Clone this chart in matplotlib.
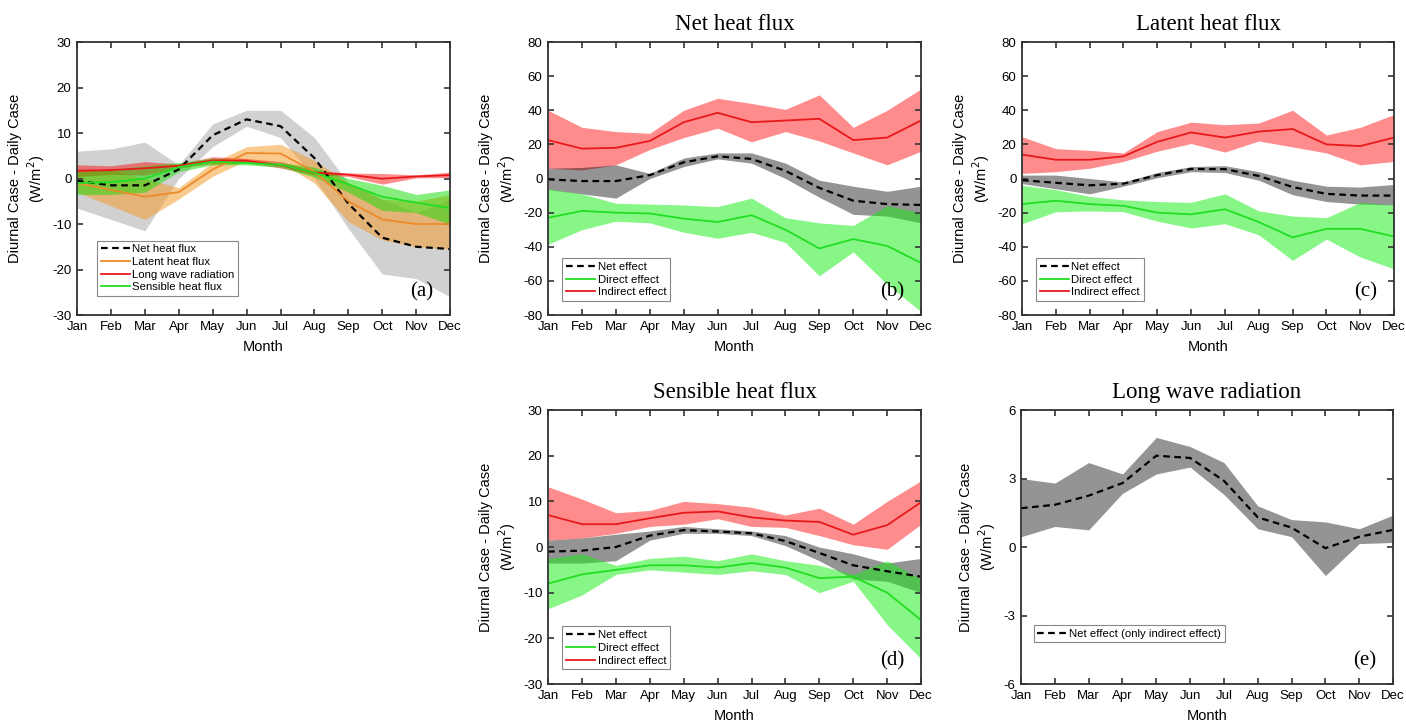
import matplotlib.pyplot as plt

months = ['Jan', 'Feb', 'Mar', 'Apr', 'May', 'Jun', 'Jul', 'Aug', 'Sep', 'Oct', 'Nov', 'Dec']
x = list(range(1, 13))

# net heat flux (panel a + net effect in panel b)
net_mid = [-0.5, -1.5, -1.5, 2, 9.5, 13, 11.5, 4.5, -5.5, -13, -15, -15.5]
net_hi = [6, 6.5, 8, 3, 12, 15, 15, 9, -1, -4.5, -7.5, -4.5]
net_lo = [-6.5, -9, -11.5, 0, 7, 11.5, 9, 0, -11, -21, -22, -26]

# latent heat flux (panel a + net effect in panel c)
lat_mid = [-1, -2.5, -4, -3, 2, 5.6, 5.5, 1.5, -5, -9, -10, -10]
lat_hi = [2, 2, 0, -2, 3.5, 7, 7.5, 4, -1, -4.5, -5, -3.5]
lat_lo = [-3, -6, -9, -4.5, 0.5, 4, 3.5, -1, -9.5, -13.5, -15, -15.5]

# sensible heat flux (panel a + net effect in panel d)
sen_mid = [-1, -0.8, 0, 2.5, 3.7, 3.4, 3.0, 1.3, -1.3, -4, -5.3, -6.5]
sen_hi = [1.5, 2, 2.8, 3.5, 4.5, 4, 3.5, 2.5, 0, -1.5, -3.5, -2.5]
sen_lo = [-3.5, -3.5, -3, 1.5, 3, 3, 2.5, 0.3, -3, -7, -7.5, -10]

# long wave radiation (panel a + panel e)
lw_mid = [1.7, 1.85, 2.25, 2.8, 4.0, 3.9, 2.9, 1.3, 0.85, -0.05, 0.45, 0.75]
lw_hi = [3, 2.8, 3.7, 3.2, 4.8, 4.4, 3.7, 1.8, 1.2, 1.1, 0.8, 1.4]
lw_lo = [0.45, 0.9, 0.75, 2.35, 3.2, 3.5, 2.3, 0.8, 0.45, -1.25, 0.15, 0.2]

# panel b: net heat flux, direct / indirect
b_dir_mid = [-23, -19, -20, -20.5, -23.5, -25.5, -21.5, -30, -41, -35.5, -39.5, -49.5]
b_dir_hi = [-6, -9, -14.5, -15, -15.5, -16.5, -11.5, -23, -26, -27.5, -16, -20]
b_dir_lo = [-38.5, -30, -25, -26, -31.5, -35, -31.5, -37.5, -57, -43, -62, -78]
b_ind_mid = [22.5, 17.5, 18, 22, 33, 38.5, 33, 34, 35, 22.5, 24, 34]
b_ind_hi = [40, 30, 27.5, 26.5, 40, 47, 44, 40.5, 49, 30, 40, 52.5]
b_ind_lo = [6, 5, 8, 17, 24, 29.5, 21.5, 27.5, 22, 15, 8, 16]

# panel c: latent heat flux, direct / indirect
c_dir_mid = [-15, -13, -15, -16, -20, -21, -18, -25.5, -34.5, -29.5, -29.5, -34]
c_dir_hi = [-4, -6.5, -10.5, -12.5, -13.5, -14, -9, -19, -22, -23, -14, -15.5]
c_dir_lo = [-26.5, -19.5, -19, -19.5, -25, -29, -26.5, -33, -48, -35.5, -46, -53]
c_ind_mid = [14, 11, 11, 13, 21.5, 27, 24, 27.5, 29, 20, 19, 24]
c_ind_hi = [24.5, 17.5, 16.5, 15, 27.5, 33, 31.5, 32.5, 40, 25.5, 30, 37.5]
c_ind_lo = [3, 4, 6, 10, 16, 20.5, 15.5, 22, 18.5, 15, 8, 10]

# panel d: sensible heat flux, direct / indirect
d_dir_mid = [-8, -6, -5, -4, -4, -4.5, -3.5, -4.5, -6.8, -6.5, -10, -16]
d_dir_hi = [-2.5, -1.5, -4, -2.5, -2, -3, -1.5, -3, -4, -6, -3, -7]
d_dir_lo = [-13.5, -10.5, -6, -5, -5.5, -6, -5.2, -6, -10, -7.5, -17, -24.5]
d_ind_mid = [7, 5, 5, 6.3, 7.5, 7.8, 6.5, 5.8, 5.5, 2.7, 4.8, 9.8]
d_ind_hi = [13.2, 10.5, 7.5, 8, 10, 9.5, 8.7, 7, 8.5, 5, 10, 14.5]
d_ind_lo = [1.5, 2, 3, 4.5, 5, 6.2, 4.5, 4.3, 2.5, 0.5, -0.5, 5]

plt.rcParams['font.family'] = 'Liberation Sans'
plt.rcParams['axes.unicode_minus'] = False
plt.rcParams['axes.edgecolor'] = '#333333'
plt.rcParams['axes.linewidth'] = 1.3

RED = '#e8191c'
GREEN = '#22dd22'
ORANGE = '#ee8a2a'

fig = plt.figure(figsize=(14.06, 7.23), dpi=100)
w = 0.2653
ax_a = fig.add_axes([0.0548, 0.5643, w, 0.3776])
ax_b = fig.add_axes([0.3898, 0.5643, w, 0.3776])
ax_c = fig.add_axes([0.7269, 0.5643, 0.2646, 0.3776])
ax_d = fig.add_axes([0.3898, 0.0539, w, 0.379])
ax_e = fig.add_axes([0.7262, 0.0539, 0.2646, 0.379])


def style(ax, ylim, step, label, title=None):
    ax.set_xlim(1, 12)
    ax.set_ylim(ylim)
    ax.set_xticks(x)
    ax.set_xticklabels(months)
    yt = list(range(ylim[0], ylim[1] + 1, step))
    ax.set_yticks(yt)
    ax.tick_params(direction='in', top=True, right=True, labeltop=False,
                   labelright=False, length=4, width=1.2, labelsize=9.5,
                   color='#333333', pad=4)
    ax.set_xlabel('Month', fontsize=10.5, labelpad=5)
    ax.set_ylabel('Diurnal Case - Daily Case\n(W/m$^2$)', fontsize=10.5)
    ax.text(0.955, 0.05, label, transform=ax.transAxes, ha='right',
            va='bottom', fontsize=15, family='Liberation Serif')
    if title:
        ax.set_title(title, fontsize=16.5, family='Liberation Serif', pad=9)


def legend(ax, anchor):
    lg = ax.legend(loc='lower left', bbox_to_anchor=anchor, fontsize=8.2,
                   fancybox=False, edgecolor='#888888', framealpha=1,
                   borderaxespad=0, handlelength=2.6, borderpad=0.3,
                   labelspacing=0.25, handletextpad=0.2)
    lg.get_frame().set_linewidth(0.8)


# (a)
ax_a.fill_between(x, net_lo, net_hi, color='black', alpha=0.18, lw=0)
ax_a.fill_between(x, lat_lo, lat_hi, color='#f5961e', alpha=0.5, lw=0)
ax_a.fill_between(x, lw_lo, lw_hi, color='red', alpha=0.45, lw=0)
ax_a.fill_between(x, sen_lo, sen_hi, color='#11dd00', alpha=0.5, lw=0)
ax_a.plot(x, net_mid, color='black', ls=(0, (3, 2)), lw=1.6, label='Net heat flux')
ax_a.plot(x, lat_mid, color=ORANGE, lw=1.3, label='Latent heat flux')
ax_a.plot(x, lw_mid, color=RED, lw=1.3, label='Long wave radiation')
ax_a.plot(x, sen_mid, color=GREEN, lw=1.3, label='Sensible heat flux')
style(ax_a, (-30, 30), 10, '(a)')
legend(ax_a, (0.054, 0.07))

# (b), (c), (d)
panels = [
    (ax_b, net_lo, net_hi, net_mid, b_dir_lo, b_dir_hi, b_dir_mid,
     b_ind_lo, b_ind_hi, b_ind_mid, (-80, 80), 20, '(b)', 'Net heat flux', (0.038, 0.052)),
    (ax_c, lat_lo, lat_hi, lat_mid, c_dir_lo, c_dir_hi, c_dir_mid,
     c_ind_lo, c_ind_hi, c_ind_mid, (-80, 80), 20, '(c)', 'Latent heat flux', (0.038, 0.052)),
    (ax_d, sen_lo, sen_hi, sen_mid, d_dir_lo, d_dir_hi, d_dir_mid,
     d_ind_lo, d_ind_hi, d_ind_mid, (-30, 30), 10, '(d)', 'Sensible heat flux', (0.038, 0.055)),
]
for (ax, nlo, nhi, nmid, dlo, dhi, dmid, ilo, ihi, imid,
     ylim, step, lab, title, anchor) in panels:
    ax.fill_between(x, ilo, ihi, color='red', alpha=0.45, lw=0)
    ax.fill_between(x, nlo, nhi, color='black', alpha=0.42, lw=0)
    ax.fill_between(x, dlo, dhi, color='#11ee11', alpha=0.5, lw=0)
    ax.plot(x, nmid, color='black', ls=(0, (3, 2)), lw=1.6, label='Net effect')
    ax.plot(x, dmid, color=GREEN, lw=1.3, label='Direct effect')
    ax.plot(x, imid, color=RED, lw=1.3, label='Indirect effect')
    style(ax, ylim, step, lab, title)
    legend(ax, anchor)

# (e)
ax_e.fill_between(x, lw_lo, lw_hi, color='black', alpha=0.42, lw=0)
ax_e.plot(x, lw_mid, color='black', ls=(0, (3, 2)), lw=1.6,
          label='Net effect (only indirect effect)')
style(ax_e, (-6, 6), 3, '(e)', 'Long wave radiation')
legend(ax_e, (0.035, 0.153))

fig.savefig('out.png', dpi=100)
